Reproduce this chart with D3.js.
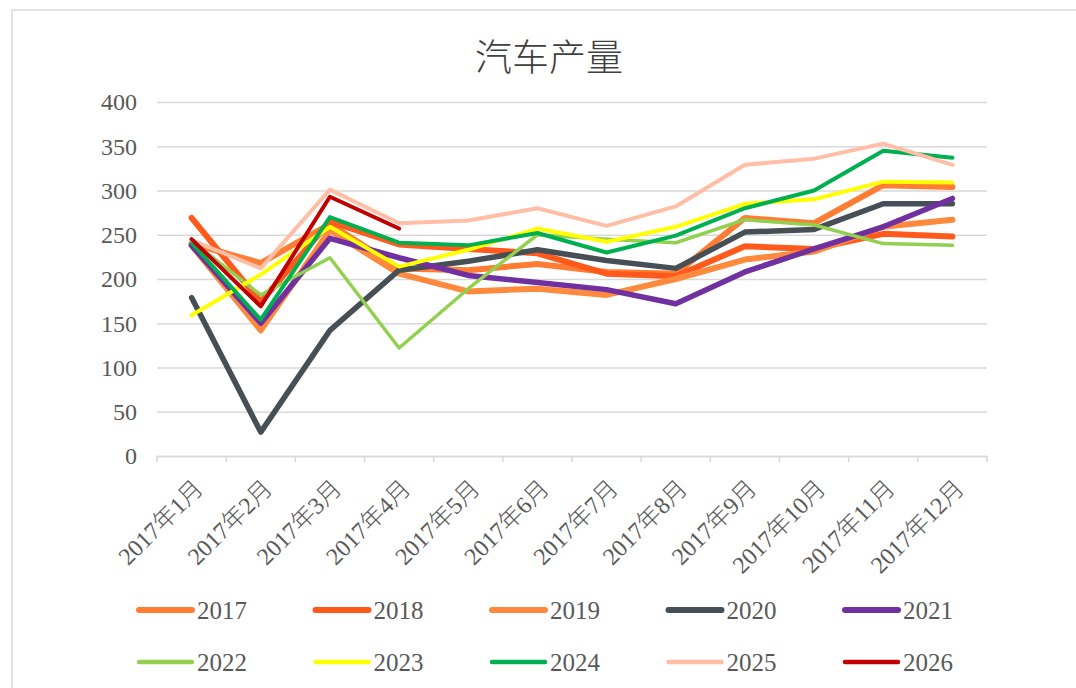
<!DOCTYPE html>
<html>
<head>
<meta charset="utf-8">
<script src="https://cdn.jsdelivr.net/npm/d3@7"></script>
<style>
  body { margin: 0; background: #fff; }
  svg text { font-family: "Liberation Serif", "Noto Sans CJK SC", serif; fill: #595959; }
</style>
</head>
<body>
<svg id="chart" width="1076" height="688"></svg>
<script>
// months on the x axis
var months = ['2017年1月', '2017年2月', '2017年3月', '2017年4月', '2017年5月', '2017年6月',
              '2017年7月', '2017年8月', '2017年9月', '2017年10月', '2017年11月', '2017年12月'];
var yTicks = [0, 50, 100, 150, 200, 250, 300, 350, 400];
var years = ['2017', '2018', '2019', '2020', '2021', '2022', '2023', '2024', '2025', '2026'];

// values, one array per year
var v2017 = [240, 218, 262, 212, 210, 217, 208, 206, 269, 263, 306, 304];
var v2018 = [269, 174, 265, 239, 234, 229, 206, 203, 237, 234, 251, 248];
var v2019 = [238, 142, 255, 206, 186, 189, 182, 200, 222, 231, 259, 267];
var v2020 = [179, 27, 142, 210, 220, 233, 221, 212, 253, 256, 285, 285];
var v2021 = [238, 150, 246, 224, 204, 196, 188, 172, 208, 234, 259, 291];
var v2022 = [243, 182, 224, 122, 189, 250, 245, 241, 267, 261, 240, 238];
var v2023 = [159, 205, 259, 214, 233, 257, 242, 259, 285, 290, 310, 309];
var v2024 = [241, 154, 270, 241, 238, 252, 230, 249, 280, 300, 345, 337];
var v2025 = [244, 212, 301, 263, 266, 280, 260, 282, 329, 336, 353, 329];
var v2026 = [245, 169, 293, 257];

var seriesValues = [v2017, v2018, v2019, v2020, v2021, v2022, v2023, v2024, v2025, v2026];
var colors = ['#FF7D33', '#FF5A1C', '#FF8A3D', '#464E56', '#7030A0',
              '#92D050', '#FFFF00', '#00B050', '#FFBEA5', '#C00000'];
var widths = [6, 6, 6, 5.5, 5.5, 3.5, 4, 4, 4, 4];

var svg = d3.select('#chart');

// outer frame (only top and left edge show)
svg.append('rect')
    .attr('x', 12).attr('y', 10)
    .attr('width', 1100).attr('height', 700)
    .style('fill', 'none')
    .style('stroke', '#d9d9d9')
    .style('stroke-width', 1.5);

var padding = {t: 102, l: 157, r: 89, b: 232};
var chartWidth = 1076 - padding.l - padding.r;
var chartHeight = 688 - padding.t - padding.b;

var chartG = svg.append('g')
    .attr('transform', 'translate(' + [padding.l, padding.t] + ')');

var xScale = d3.scaleBand().domain(months).range([0, chartWidth]).padding(0);
var yScale = d3.scaleLinear().domain([0, 400]).range([chartHeight, 0]);

// title
svg.append('text')
    .attr('x', 549).attr('y', 71)
    .attr('text-anchor', 'middle')
    .style('font-size', '37px')
    .style('font-weight', 300)
    .style('fill', '#404040')
    .text('汽车产量');

// gridlines + y labels
var yAxis = chartG.append('g')
    .call(d3.axisLeft(yScale).tickValues(yTicks).tickSize(-chartWidth).tickPadding(20));
yAxis.select('.domain').remove();
yAxis.selectAll('.tick line').style('stroke', '#d9d9d9').style('stroke-width', 1.5);
yAxis.selectAll('.tick text').style('font-size', '24px').attr('dy', '0.33em');

// x axis line with boundary ticks
var xAxis = chartG.append('g')
    .attr('transform', 'translate(0,' + chartHeight + ')')
    .call(d3.axisBottom(xScale).tickSize(0).tickFormat(''));
xAxis.select('.domain').style('stroke', '#d9d9d9').style('stroke-width', 1.5);

var bounds = months.map(function(m) { return xScale(m); }).concat([chartWidth]);
xAxis.selectAll('.bound')
    .data(bounds)
    .enter().append('line')
    .attr('class', 'bound')
    .attr('x1', function(d) { return d; })
    .attr('x2', function(d) { return d; })
    .attr('y1', 0).attr('y2', 6)
    .style('stroke', '#d9d9d9').style('stroke-width', 1.5);

xAxis.selectAll('.xlabel')
    .data(months)
    .enter().append('text')
    .attr('class', 'xlabel')
    .attr('text-anchor', 'end')
    .attr('transform', function(d) {
        return 'translate(' + (xScale(d) + xScale.bandwidth() / 2 + 13) + ',34) rotate(-45)';
    })
    .style('font-size', '24px')
    .style('font-weight', 300)
    .text(function(d) { return d; });

// lines
var line = d3.line()
    .x(function(d, i) { return xScale(months[i]) + xScale.bandwidth() / 2; })
    .y(function(d) { return yScale(d); });

chartG.selectAll('.series')
    .data(seriesValues)
    .enter().append('path')
    .attr('class', 'series')
    .attr('d', function(d) { return line(d); })
    .style('fill', 'none')
    .style('stroke', function(d, i) { return colors[i]; })
    .style('stroke-width', function(d, i) { return widths[i]; })
    .style('stroke-linejoin', 'round')
    .style('stroke-linecap', 'round');

// legend: two rows of five
var legend = svg.selectAll('.legend')
    .data(years)
    .enter().append('g')
    .attr('class', 'legend')
    .attr('transform', function(d, i) {
        return 'translate(' + (139 + (i % 5) * 176.5) + ',' + (610 + Math.floor(i / 5) * 52) + ')';
    });

legend.append('line')
    .attr('x1', 0).attr('x2', 53)
    .attr('y1', 0).attr('y2', 0)
    .style('stroke', function(d, i) { return colors[i]; })
    .style('stroke-width', function(d, i) { return i < 5 ? 6 : 4.5; })
    .style('stroke-linecap', 'round');

legend.append('text')
    .attr('x', 58).attr('y', 0)
    .attr('dy', '0.35em')
    .style('font-size', '25px')
    .text(function(d) { return d; });
</script>
</body>
</html>
